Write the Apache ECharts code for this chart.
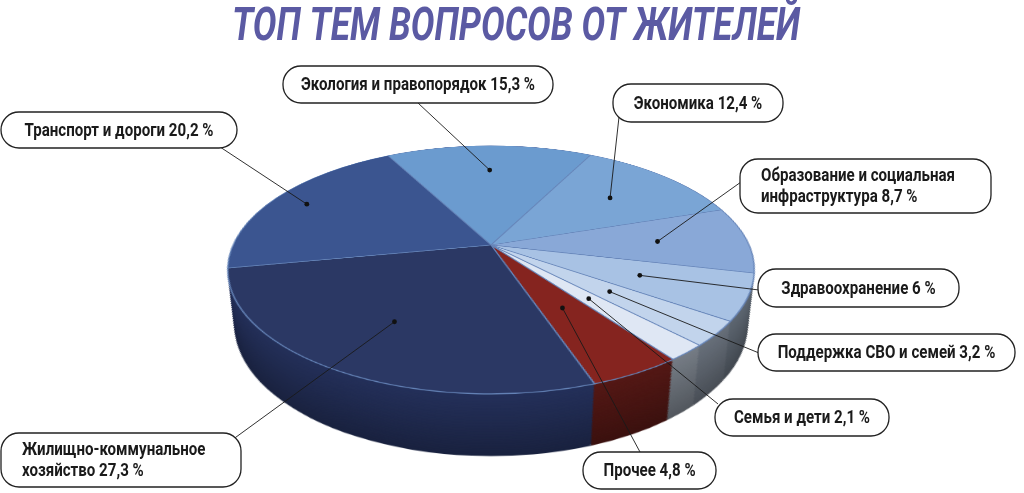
<!DOCTYPE html>
<html>
<head>
<meta charset="utf-8">
<script src="https://cdn.jsdelivr.net/npm/echarts@6/dist/echarts.min.js"></script>
<style>
html, body { margin: 0; padding: 0; width: 1024px; height: 493px; overflow: hidden; background: #fff; }
#wrap { position: relative; width: 1024px; height: 493px; overflow: hidden; }
#pie { position: absolute; left: 0; width: 1024px; height: 640px; }
#lab { position: absolute; left: 0; top: 0; width: 1024px; height: 493px; }
</style>
</head>
<body>
<div id="wrap"><div id="pie"></div><div id="lab"></div></div>
<script>
// data, clockwise from the top slice
var categories = ['Экология и правопорядок', 'Экономика', 'Образование и социальная\nинфраструктура',
    'Здравоохранение', 'Поддержка СВО и семей', 'Семья и дети', 'Прочее',
    'Жилищно-коммунальное\nхозяйство', 'Транспорт и дороги'];
var values = [15.3, 12.4, 8.7, 6, 3.2, 2.1, 4.8, 27.3, 20.2];
var titleText = 'ТОП ТЕМ ВОПРОСОВ ОТ ЖИТЕЛЕЙ';

var topColors = ['#6b9bcf', '#7aa5d5', '#89a8d7', '#a8c2e4', '#c2d4ec', '#dfe7f4', '#85241f', '#2b3864', '#3b5590'];
var sideColors = ['#3f6699', '#4d72a2', '#58709c', '#5e6772', '#68707b', '#767d86', '#541815', '#24305a', '#2c3f72'];

// label boxes: [x, y, w, h, anchorX, anchorY, align, dot radius fraction]
var boxes = [
    [283, 66, 270, 37, 418, 103, 'center', 0.72],
    [613, 84, 170, 38, 619, 117, 'center', 0.66],
    [740, 159, 251, 54, 741, 182, 'left', 0.65],
    [758, 269, 201, 38, 759, 290, 'center', 0.6],
    [758, 334, 257, 37, 759, 353, 'center', 0.56],
    [715, 399, 174, 37, 718, 404, 'center', 0.54],
    [583, 452, 133, 37, 640, 452, 'center', 0.54],
    [1, 433, 240, 54, 232, 440, 'left', 0.66],
    [1, 112, 236, 36, 214, 143, 'center', 0.85]
];

// tilted disc: flat pie seen through a css perspective
var TILT = 62.5, P = 1144, RHO = 258, H = 62, START = 118;
var CXS = 491, CYS = 245;   // apex on screen
var FX = 491, FY = 270;     // pie centre inside the flat div
var A = TILT * Math.PI / 180, cosA = Math.cos(A), sinA = Math.sin(A), D = P * cosA;

var pieDiv = document.getElementById('pie');
pieDiv.style.top = (CYS - FY) + 'px';
pieDiv.style.transformOrigin = FX + 'px ' + FY + 'px';
pieDiv.style.transform = 'perspective(' + P + 'px) rotateX(' + TILT + 'deg)';

function shade(hex, t) {
    var n = parseInt(hex.slice(1), 16);
    var r = (n >> 16) & 255, g = (n >> 8) & 255, b = n & 255;
    return 'rgb(' + Math.round(r * (1 - t)) + ',' + Math.round(g * (1 - t)) + ',' + Math.round(b * (1 - t)) + ')';
}

function pieLayer(cy, radius, colors, isTop) {
    return {
        type: 'pie', radius: radius, center: [FX, cy], startAngle: START, clockwise: true,
        silent: true, animation: false,
        label: { show: false }, labelLine: { show: false },
        emphasis: { disabled: true },
        itemStyle: isTop ? { borderColor: '#6685b9', borderWidth: 1.3 } : { borderWidth: 0 },
        data: values.map(function (v, i) {
            return { name: categories[i], value: v, itemStyle: { color: colors[i] } };
        })
    };
}

// side wall: lower copies of the disc, projected back onto the top plane
var pieSeries = [];
var steps = 40;
for (var k = steps; k >= 1; k--) {
    var h = H * k / steps;
    var shift = P * h * sinA / (D + h);
    var rad = RHO * D / (D + h);
    var t = k / steps;
    pieSeries.push(pieLayer(FY + shift, rad, sideColors.map(function (c) { return shade(c, 0.3 * t); }), false));
}
pieSeries.push(pieLayer(FY, RHO, topColors, true));

var pieChart = echarts.init(pieDiv);
pieChart.setOption({ animation: false, series: pieSeries });

function project(xf, yf) {
    var w = 1 - yf * sinA / P;
    return [CXS + xf / w, CYS + yf * cosA / w];
}

// labels, title
var ctx = document.createElement('canvas').getContext('2d');
function textW(txt, font) {
    ctx.font = font;
    return Math.max.apply(null, txt.split('\n').map(function (s) { return ctx.measureText(s).width; }));
}
var labelFont = 'bold 19px Roboto';
var titleFont = 'italic 700 46px Roboto';
function labelText(i) {
    return categories[i] + ' ' + String(values[i]).replace('.', ',') + ' %';
}
var labelScale = 234 / textW(labelText(0), labelFont);
var titleScale = 568 / textW(titleText, titleFont);

var total = values.reduce(function (a, b) { return a + b; }, 0);
var graphics = [{
    type: 'text', x: 516, y: 28, scaleX: titleScale,
    style: { text: titleText, font: titleFont, fill: '#5b5aa3', align: 'center', verticalAlign: 'middle' }
}];
var cum = 0;
values.forEach(function (v, i) {
    var mid = (START - (cum + v / 2) / total * 360) * Math.PI / 180;
    cum += v;
    var b = boxes[i];
    var pt = project(b[7] * RHO * Math.cos(mid), -b[7] * RHO * Math.sin(mid));
    graphics.push({
        type: 'line', silent: true,
        shape: { x1: pt[0], y1: pt[1], x2: b[4], y2: b[5] },
        style: { stroke: '#1a1a1a', lineWidth: 0.9 }
    });
    graphics.push({
        type: 'rect', silent: true,
        shape: { x: b[0], y: b[1], width: b[2], height: b[3], r: 18 },
        style: { fill: '#fff', stroke: '#222', lineWidth: 1.3 }
    });
    var left = b[6] === 'left';
    graphics.push({
        type: 'text', silent: true,
        x: left ? b[0] + 21 : b[0] + b[2] / 2, y: b[1] + b[3] / 2 + 1, scaleX: labelScale,
        style: {
            text: labelText(i), font: labelFont, fill: '#1a1a1a', lineHeight: 21,
            align: left ? 'left' : 'center', verticalAlign: 'middle'
        }
    });
    graphics.push({
        type: 'circle', silent: true,
        shape: { cx: pt[0], cy: pt[1], r: 2.4 },
        style: { fill: '#111' }
    });
});

var labChart = echarts.init(document.getElementById('lab'));
labChart.setOption({ animation: false, graphic: graphics });
</script>
</body>
</html>
